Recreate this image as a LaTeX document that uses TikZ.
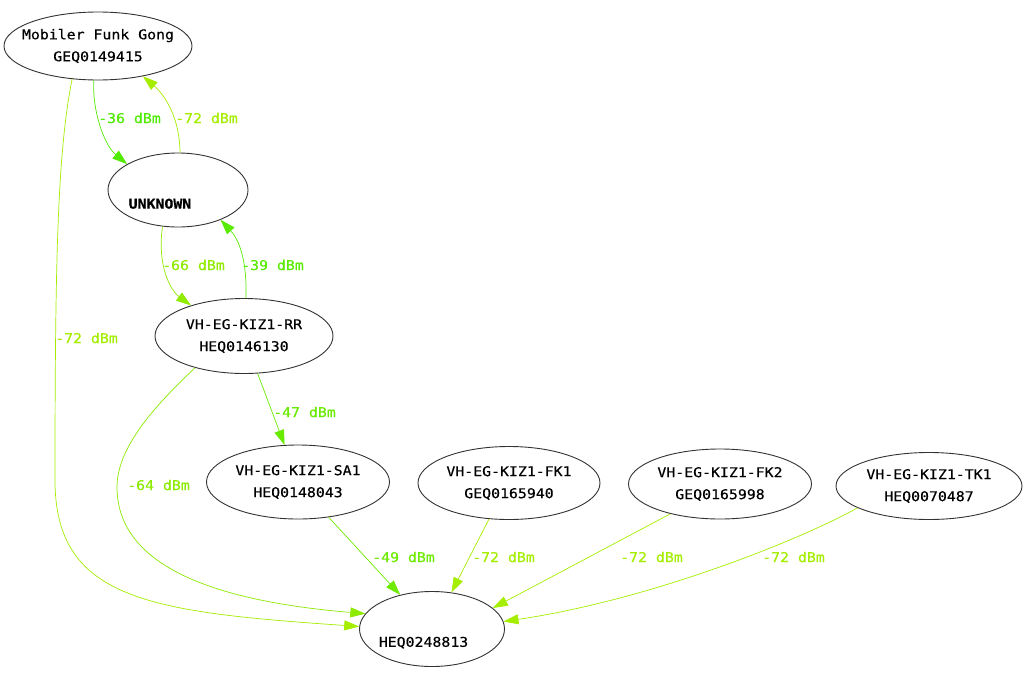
\documentclass[tikz,border=0pt]{standalone}
\usepackage{fontspec}
\setmonofont[FakeStretch=1.1,FakeBold=0.4]{DejaVu Sans Mono}
\usetikzlibrary{shapes.geometric,arrows.meta}
\definecolor{sigA}{RGB}{80,235,0}   % -36
\definecolor{sigB}{RGB}{88,235,0}   % -39
\definecolor{sigC}{RGB}{105,235,0}  % -47
\definecolor{sigD}{RGB}{110,235,0}  % -49
\definecolor{sigE}{RGB}{140,235,0}  % -64
\definecolor{sigF}{RGB}{145,235,0}  % -66
\definecolor{sigG}{RGB}{165,238,0}  % -72
\begin{document}
\begin{tikzpicture}[
    x=1pt, y=-1pt,
    every node/.style={font=\ttfamily\fontsize{13.5}{22}\selectfont},
    station/.style={draw=black!80, line width=0.9pt, ellipse, inner sep=0pt, align=center},
    link/.style={line width=0.7pt, -{Triangle[length=15pt,width=10pt]}},
    dbm/.style={anchor=west, inner sep=0pt}
]
\fill[white] (0,0) rectangle (1028,675);
\useasboundingbox (0,0) rectangle (1028,675);

% stations
\node[station, inner xsep=-10pt, minimum width=188pt, minimum height=68pt] (gong) at (98,46) {Mobiler Funk Gong\\GEQ0149415};
\node[station, minimum width=140pt, minimum height=74pt] (unknown) at (178,190) {\strut\\\hspace*{-36pt}{\bfseries UNKNOWN}};
\node[station, minimum width=178pt, minimum height=75pt] (rr) at (244,336) {VH-EG-KIZ1-RR\\HEQ0146130};
\node[station, minimum width=183pt, minimum height=74pt] (sa1) at (298,482) {VH-EG-KIZ1-SA1\\HEQ0148043};
\node[station, minimum width=182pt, minimum height=73pt] (fk1) at (509,483) {VH-EG-KIZ1-FK1\\GEQ0165940};
\node[station, minimum width=183pt, minimum height=70pt] (fk2) at (720,484) {VH-EG-KIZ1-FK2\\GEQ0165998};
\node[station, minimum width=186pt, minimum height=67pt] (tk1) at (929,486) {VH-EG-KIZ1-TK1\\HEQ0070487};
\node[station, minimum width=145pt, minimum height=75pt] (heq) at (432,629) {\strut\\\hspace*{-17pt}HEQ0248813};

% links
\draw[link, sigA] (gong.263) .. controls (92,110) and (104,145) .. (unknown.153);
\draw[link, sigG] (unknown.87) .. controls (180,120) and (166,96) .. (gong.326);
\draw[link, sigF] (unknown.247) .. controls (157,265) and (170,290) .. (rr.150);
\draw[link, sigB] (rr.87) .. controls (247,265) and (241,242) .. (unknown.325);
\draw[link, sigC] (rr.290) -- (sa1.110);
\draw[link, sigE] (rr.213) .. controls (150,410) and (117,450) .. (117,487)
    .. controls (117,560) and (200,600) .. (heq.167);
\draw[link, sigG] (gong.232) .. controls (58,150) and (55,250) .. (55,480)
    .. controls (55,600) and (150,612) .. (heq.178);
\draw[link, sigD] (sa1.311) -- (heq.133);
\draw[link, sigG] (fk1.241) -- (heq.62);
\draw[link, sigG] (fk2.211) -- (heq.19);
\draw[link, sigG] (tk1.197) .. controls (800,540) and (650,600) .. (heq.6);

% signal levels
\node[dbm, text=sigA] (l36) at (98,118) {-36 dBm};
\node[dbm, text=sigG] (l72a) at (175,118) {-72 dBm};
\node[dbm, text=sigF] (l66) at (162,265) {-66 dBm};
\node[dbm, text=sigB] (l39) at (241,265) {-39 dBm};
\node[dbm, text=sigC] (l47) at (273,412) {-47 dBm};
\node[dbm, text=sigE] (l64) at (127,485) {-64 dBm};
\node[dbm, text=sigG] (l72b) at (55,338) {-72 dBm};
\node[dbm, text=sigD] (l49) at (372,557) {-49 dBm};
\node[dbm, text=sigG] (l72c) at (472,557) {-72 dBm};
\node[dbm, text=sigG] (l72d) at (620,557) {-72 dBm};
\node[dbm, text=sigG] (l72e) at (762,557) {-72 dBm};
\end{tikzpicture}
\end{document}
